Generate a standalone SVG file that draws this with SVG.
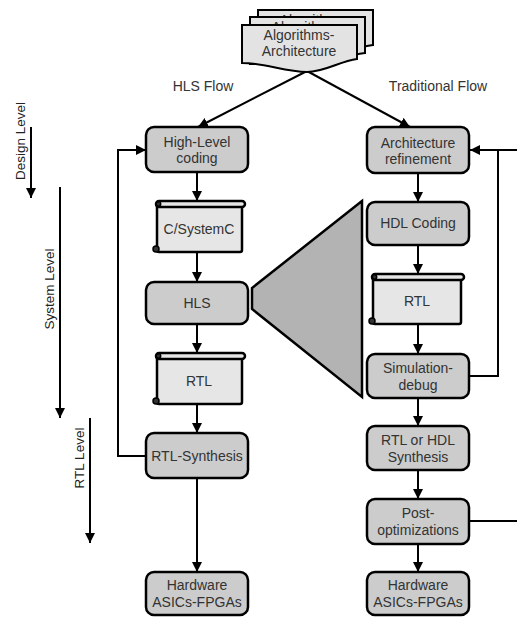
<svg xmlns="http://www.w3.org/2000/svg" width="517" height="617" viewBox="0 0 517 617">
<style>
.box{fill:#cccccc;stroke:#000;stroke-width:2.5}
.scr{fill:#e6e6e6;stroke:#000;stroke-width:2.5}
.curl{fill:#333;stroke:#000;stroke-width:1.5}
.doc{fill:#e3e3e3;stroke:#000;stroke-width:2}
.t{font-family:"Liberation Sans",Arial,sans-serif;font-size:14px;fill:#333;text-anchor:middle}
.lab{font-family:"Liberation Sans",Arial,sans-serif;font-size:13.5px;fill:#222;text-anchor:middle}
.c{fill:none;stroke:#000;stroke-width:2}
</style>
<defs>
<marker id="ah" viewBox="0 0 10 10" refX="10" refY="5" markerWidth="5" markerHeight="5" orient="auto" markerUnits="strokeWidth">
<path d="M0,0 L10,5 L0,10 Z" fill="#000"/>
</marker>
</defs>
<rect width="517" height="617" fill="#fff"/>

<g id="axis">
<line class="c" x1="31" y1="127" x2="31" y2="198" marker-end="url(#ah)"/>
<text class="lab" transform="translate(25,141) rotate(-90)">Design Level</text>
<line class="c" x1="60" y1="187" x2="60" y2="418" marker-end="url(#ah)"/>
<text class="lab" transform="translate(54,289) rotate(-90)">System Level</text>
<line class="c" x1="90" y1="418" x2="90" y2="543" marker-end="url(#ah)"/>
<text class="lab" transform="translate(84,458) rotate(-90)">RTL Level</text>
</g>

<g id="flowlabels">
<text class="t" x="203" y="91">HLS Flow</text>
<text class="t" x="438" y="91">Traditional Flow</text>
</g>

<g id="connectors">
<path class="c" d="M307,71 L198,127" marker-end="url(#ah)"/>
<path class="c" d="M307,71 L410,127" marker-end="url(#ah)"/>
<line class="c" x1="197" y1="172" x2="197" y2="201" marker-end="url(#ah)"/>
<line class="c" x1="197" y1="252" x2="197" y2="282" marker-end="url(#ah)"/>
<line class="c" x1="197" y1="324" x2="197" y2="353" marker-end="url(#ah)"/>
<line class="c" x1="197" y1="404" x2="197" y2="433" marker-end="url(#ah)"/>
<line class="c" x1="197" y1="478" x2="197" y2="572" marker-end="url(#ah)"/>
<path class="c" d="M146,456 H118 V150 H146" marker-end="url(#ah)"/>
<line class="c" x1="418" y1="173" x2="418" y2="202" marker-end="url(#ah)"/>
<line class="c" x1="418" y1="245" x2="418" y2="274" marker-end="url(#ah)"/>
<line class="c" x1="418" y1="324" x2="418" y2="354" marker-end="url(#ah)"/>
<line class="c" x1="418" y1="398" x2="418" y2="426" marker-end="url(#ah)"/>
<line class="c" x1="418" y1="470" x2="418" y2="499" marker-end="url(#ah)"/>
<line class="c" x1="418" y1="544" x2="418" y2="572" marker-end="url(#ah)"/>
<path class="c" d="M469,376 H498 V150"/>
<path class="c" d="M517,150 H470" marker-end="url(#ah)"/>
<path class="c" d="M469,521 H517"/>
</g>

<g id="docs">
<path class="doc" d="M258,10 H373 V45 C360,46 348,52 336,57 L336,57 H258 Z"/>
<text class="t" x="315" y="25">Algorithms-</text>
<path class="doc" d="M250,17 H365 V53 C352,54 340,60 328,64 H250 Z"/>
<text class="t" x="307" y="32">Algorithms-</text>
<path class="doc" d="M242,25 H357 V59 C340,61 325,72 307,72 C285,72 265,63 242,63 Z"/>
<text class="t" x="299" y="40">Algorithms-</text>
<text class="t" x="299" y="56">Architecture</text>
</g>

<g id="triangle">
<polygon points="362,201 252,288 252,309 362,397" fill="#b3b3b3" stroke="#000" stroke-width="2.5" stroke-linejoin="miter"/>
</g>

<g id="hlc">
<rect class="box" x="146" y="127" width="102" height="45" rx="8"/>
<text class="t" x="197" y="147">High-Level</text>
<text class="t" x="197" y="163">coding</text>
</g>

<g id="csystemc">
<rect class="scr" x="157" y="204" width="85" height="48" rx="2"/>
<rect class="scr" x="156" y="201" width="89" height="6" rx="3"/>
<circle class="curl" cx="158.5" cy="204" r="2.2"/>
<circle class="curl" cx="156" cy="249" r="3"/>
<text class="t" x="199" y="234">C/SystemC</text>
</g>

<g id="hls">
<rect class="box" x="146" y="282" width="102" height="42" rx="8"/>
<text class="t" x="197" y="308">HLS</text>
</g>

<g id="rtl-left">
<rect class="scr" x="157" y="356" width="85" height="48" rx="2"/>
<rect class="scr" x="156" y="353" width="89" height="6" rx="3"/>
<circle class="curl" cx="158.5" cy="356" r="2.2"/>
<circle class="curl" cx="156" cy="401" r="3"/>
<text class="t" x="199" y="386">RTL</text>
</g>

<g id="rtlsynth">
<rect class="box" x="146" y="433" width="102" height="45" rx="8"/>
<text class="t" x="197" y="461">RTL-Synthesis</text>
</g>

<g id="hw-left">
<rect class="box" x="146" y="572" width="102" height="43" rx="8"/>
<text class="t" x="197" y="590">Hardware</text>
<text class="t" x="197" y="607">ASICs-FPGAs</text>
</g>

<g id="arch">
<rect class="box" x="367" y="127" width="102" height="46" rx="8"/>
<text class="t" x="418" y="148">Architecture</text>
<text class="t" x="418" y="164">refinement</text>
</g>

<g id="hdl">
<rect class="box" x="367" y="202" width="102" height="43" rx="8"/>
<text class="t" x="418" y="228">HDL Coding</text>
</g>

<g id="rtl-right">
<rect class="scr" x="373" y="277" width="88" height="47" rx="2"/>
<rect class="scr" x="372" y="274" width="92" height="6" rx="3"/>
<circle class="curl" cx="374.5" cy="277" r="2.2"/>
<circle class="curl" cx="372" cy="321" r="3"/>
<text class="t" x="417" y="306">RTL</text>
</g>

<g id="sim">
<rect class="box" x="367" y="354" width="102" height="44" rx="8"/>
<text class="t" x="418" y="373">Simulation-</text>
<text class="t" x="418" y="390">debug</text>
</g>

<g id="rtlhdl">
<rect class="box" x="367" y="426" width="102" height="44" rx="8"/>
<text class="t" x="418" y="445">RTL or HDL</text>
<text class="t" x="418" y="462">Synthesis</text>
</g>

<g id="post">
<rect class="box" x="367" y="499" width="102" height="45" rx="8"/>
<text class="t" x="418" y="518">Post-</text>
<text class="t" x="418" y="535">optimizations</text>
</g>

<g id="hw-right">
<rect class="box" x="367" y="572" width="102" height="43" rx="8"/>
<text class="t" x="418" y="590">Hardware</text>
<text class="t" x="418" y="607">ASICs-FPGAs</text>
</g>
</svg>
